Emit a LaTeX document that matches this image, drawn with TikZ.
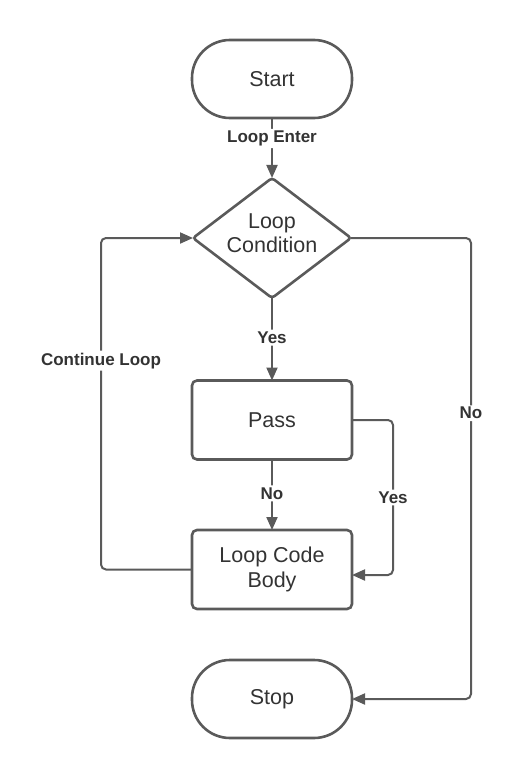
\documentclass[tikz,border=0pt]{standalone}
\usepackage{fontspec}
\setmainfont{Liberation Sans}
\usetikzlibrary{arrows.meta,shapes.geometric}
\definecolor{ln}{HTML}{5A5A5A}
\definecolor{tx}{HTML}{333333}
\begin{document}
\begin{tikzpicture}[x=1bp,y=-1bp,
  box/.style={draw=ln,line width=2.6bp,text=tx,outer sep=0pt,inner sep=0pt,
    minimum width=160bp,align=center,font=\fontsize{21.5bp}{25bp}\selectfont},
  term/.style={box,rectangle,rounded corners=38bp,minimum height=78bp},
  proc/.style={box,rectangle,rounded corners=5bp,minimum height=79bp},
  dec/.style={box,diamond,rounded corners=3bp,minimum width=158bp,minimum height=120bp,aspect=1.3},
  dectext/.style={text=tx,inner sep=0pt,align=center,font=\fontsize{21.5bp}{24bp}\selectfont},
  arr/.style={draw=ln,line width=2bp,-{Triangle[length=13bp,width=11bp]},rounded corners=5bp},
  lbl/.style={fill=white,text=tx,inner sep=2bp,font=\fontsize{17bp}{20bp}\selectfont\bfseries}]
\useasboundingbox (0,0) rectangle (524,780);
\node[term] (start) at (272,79) {Start};
\node[dec] (cond) at (272,238) {};
\node[dectext] (condtext) at (272,233) {Loop\\Condition};
\node[proc] (pass) at (272,420) {Pass};
\node[proc] (body) at (272,569.5) {Loop Code\\Body};
\node[term] (stop) at (272,699) {Stop};
\coordinate (ya) at (393,420);
\coordinate (yb) at (393,575);
\coordinate (ca) at (101,569.5);
\coordinate (cb) at (101,238);
\coordinate (na) at (471,238);
\coordinate (nb) at (471,699);
\draw[arr] (start) -- node[lbl,pos=0.34]{Loop Enter} (cond);
\draw[arr] (cond) -- node[lbl,pos=0.48]{Yes} (pass);
\draw[arr] (pass) -- node[lbl,pos=0.48]{No} (body);
\draw[arr] (pass.east) -- (ya) -- node[lbl]{Yes} (yb) -- (yb -| body.east);
\draw[arr] (body.west) -- (ca) -- node[lbl,pos=0.63]{Continue Loop} (cb) -- (cond.west);
\draw[arr] (cond.east) -- (na) -- node[lbl,pos=0.38]{No} (nb) -- (stop.east);
\end{tikzpicture}
\end{document}
